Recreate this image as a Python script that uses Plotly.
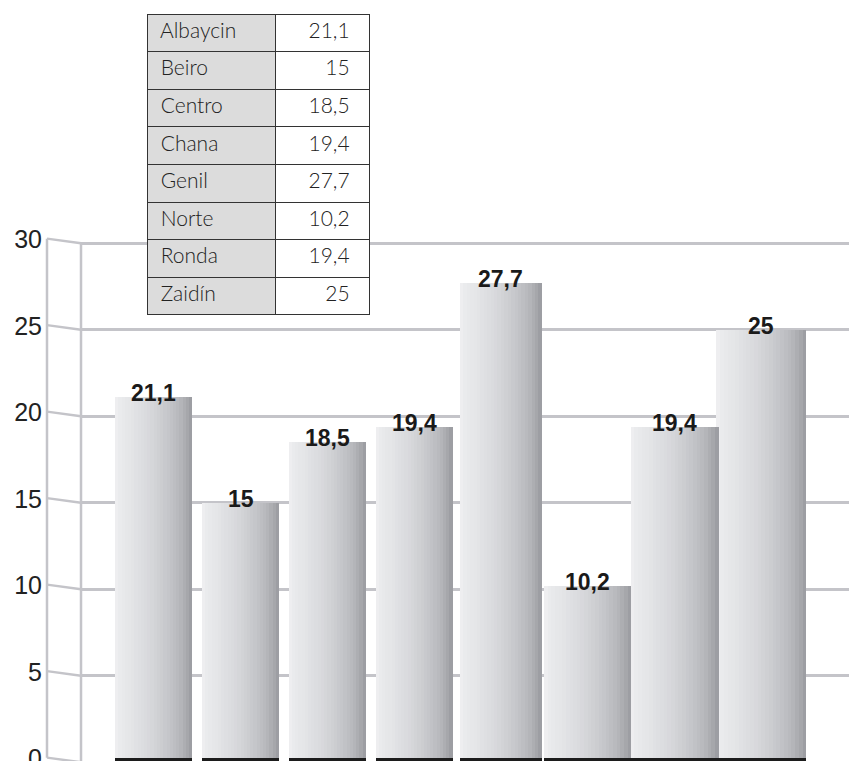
import plotly.graph_objects as go

# ---------------- data ----------------
categories = ["Albaycin", "Beiro", "Centro", "Chana", "Genil", "Norte", "Ronda", "Zaidín"]
values = [21.1, 15, 18.5, 19.4, 27.7, 10.2, 19.4, 25]
tick_vals = [0, 5, 10, 15, 20, 25, 30]
value_labels = [f"{v:g}".replace(".", ",") for v in values]

# ---------------- style ----------------
W, H = 857, 761
OFF = 8              # page body margin: shift content so screen coords match
PITCH_PX = 86.8
BACK_X = 81          # back wall (plot-area left), screen px
FRONT_X = 47         # front axis, screen px
PX_PER_UNIT = 17.3
ZERO_Y = 762.3       # screen y of value 0 on back wall
FRONT_SHIFT = 0.27   # front axis drawn slightly higher (perspective), data units
BAR_PX = [77, 77, 77, 77, 82, 87, 88, 90]
GRID = "#c4c4c9"
N_STRIPES = 24
grad_stops = [
    (0.00, (240, 240, 241)),
    (0.06, (234, 235, 237)),
    (0.20, (228, 229, 231)),
    (0.40, (218, 219, 222)),
    (0.55, (208, 209, 212)),
    (0.70, (196, 197, 201)),
    (0.85, (181, 182, 186)),
    (0.97, (160, 161, 166)),
    (1.00, (150, 151, 156)),
]


def grad(t):
    for (t0, c0), (t1, c1) in zip(grad_stops[:-1], grad_stops[1:]):
        if t0 <= t <= t1:
            f = (t - t0) / (t1 - t0) if t1 > t0 else 0
            c = [round(a + (b - a) * f) for a, b in zip(c0, c1)]
            return f"rgb({c[0]},{c[1]},{c[2]})"
    c = grad_stops[-1][1]
    return f"rgb({c[0]},{c[1]},{c[2]})"


def px_x(x):
    return (x - OFF) / W


def px_y(y):
    return 1 - (y - OFF) / H


n = len(categories)
widths = [w / PITCH_PX for w in BAR_PX]

fig = go.Figure()

# gradient bars as overlaid stripes
for k in range(N_STRIPES):
    step = [w / N_STRIPES for w in widths]
    extra = 1.4 if k < N_STRIPES - 1 else 1.0
    fig.add_trace(go.Bar(
        x=categories, y=values,
        width=[s * extra for s in step],
        offset=[-w / 2 + k * s for w, s in zip(widths, step)],
        marker=dict(color=grad((k + 0.5) / N_STRIPES), line=dict(width=0)),
        hoverinfo="skip", showlegend=False,
    ))

# dark shadow at bar bottoms
fig.add_trace(go.Bar(
    x=categories, y=[0.25] * n, width=widths, offset=[-w / 2 for w in widths],
    marker=dict(color="#1c1c1c", line=dict(width=0)),
    hoverinfo="skip", showlegend=False,
))

# value labels on top of bars
for c, v, lab in zip(categories, values, value_labels):
    fig.add_annotation(x=c, y=v, text=f"<b>{lab}</b>", showarrow=False,
                       yanchor="middle", yshift=4,
                       font=dict(family="Liberation Sans, Arial", size=23, color="#1a1a1a"))

# left "3D" wall: front axis, back axis and slanted connectors
shapes = []
fx, bx = px_x(FRONT_X), px_x(BACK_X)
shapes.append(dict(type="line", xref="paper", yref="y", x0=fx, x1=fx,
                   y0=tick_vals[0] + FRONT_SHIFT, y1=tick_vals[-1] + FRONT_SHIFT,
                   line=dict(color=GRID, width=2.5), layer="below"))
shapes.append(dict(type="line", xref="paper", yref="y", x0=bx, x1=bx,
                   y0=tick_vals[0], y1=tick_vals[-1],
                   line=dict(color=GRID, width=2.5), layer="below"))
for t in tick_vals:
    shapes.append(dict(type="line", xref="paper", yref="y", x0=fx, x1=bx,
                       y0=t + FRONT_SHIFT, y1=t,
                       line=dict(color=GRID, width=2.5), layer="below"))

# data table
NB = "\u00a0"
cell_font = dict(family="Lato, DejaVu Sans", size=21, color="#222", weight=300)
col1 = [NB + c for c in categories]
col2 = [v + NB * 2 for v in value_labels]
fig.add_trace(go.Table(
    domain=dict(x=[px_x(147), px_x(370)], y=[px_y(317), px_y(14)]),
    columnwidth=[129, 94],
    header=dict(values=[col1[0], col2[0]],
                fill_color=["#dcdcdc", "white"], align=["left", "right"],
                font=cell_font, height=37.6, line=dict(color="#333", width=1)),
    cells=dict(values=[col1[1:], col2[1:]],
               fill_color=["#dcdcdc", "white"], align=["left", "right"],
               font=cell_font, height=37.6, line=dict(color="#333", width=1)),
))

x0 = -(153.7 - BACK_X) / PITCH_PX
x1 = x0 + (W + OFF - BACK_X) / PITCH_PX
y_bottom = (ZERO_Y - (H + OFF)) / PX_PER_UNIT
y_top = (ZERO_Y - OFF) / PX_PER_UNIT
fig.update_layout(
    width=W, height=H,
    margin=dict(l=0, r=0, t=0, b=0, autoexpand=False),
    paper_bgcolor="white", plot_bgcolor="white",
    barmode="overlay", bargap=0,
    showlegend=False,
    shapes=shapes,
    xaxis=dict(domain=[px_x(BACK_X), 1], range=[x0, x1], showticklabels=False,
               showgrid=False, zeroline=False, showline=False, ticks="",
               automargin=False),
    yaxis=dict(domain=[0, 1], range=[y_bottom, y_top], tickvals=tick_vals,
               showgrid=True, gridcolor=GRID, gridwidth=2.5, zeroline=False,
               showline=False, ticks="", ticklabelstandoff=38, ticklabelshift=-4,
               ticklabeloverflow="allow", automargin=False,
               tickfont=dict(family="Liberation Sans, Arial", size=25, color="#222")),
)

fig.write_html("out.html")
